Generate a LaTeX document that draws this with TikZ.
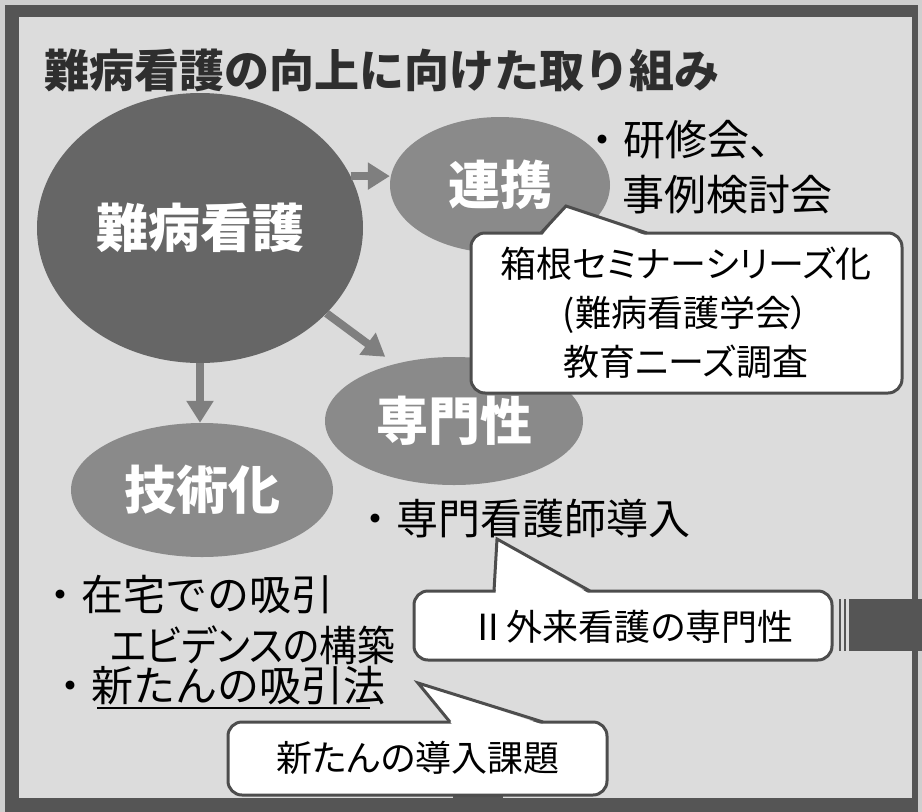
\documentclass[tikz,border=0pt]{standalone}
\usepackage{fontspec}
\newfontfamily\jp{Noto Sans CJK JP}
\newfontfamily\jpp[RawFeature=+palt]{Noto Sans CJK JP}
\newfontfamily\jpn[RawFeature=+palt, FakeStretch=0.9]{Noto Sans CJK JP}
\usetikzlibrary{shapes.geometric,arrows.meta,calc}
\definecolor{outerbg}{HTML}{CFCFCF}
\definecolor{innerbg}{HTML}{DCDCDC}
\definecolor{framegray}{HTML}{555555}
\definecolor{edgegray}{HTML}{4D4D4D}
\definecolor{arrowgray}{HTML}{7F7F7F}
\definecolor{biggray}{HTML}{666666}
\definecolor{smallgray}{HTML}{8A8A8A}
\definecolor{titlegray}{HTML}{2E2E2E}
\begin{document}
\begin{tikzpicture}[x=1pt,y=-1pt,
  bubble/.style={ellipse, inner sep=0pt, text=white, font=\jp\bfseries\fontsize{52}{60}\selectfont},
  arr/.style={draw=arrowgray, line width=8pt, -{Triangle[length=22pt,width=26pt]}},
  boxline/.style={draw=edgegray, line width=3pt},
  plain/.style={inner sep=0pt, anchor=west, text=black, font=\jp\fontsize{42}{50}\selectfont},
  titlestyle/.style={inner sep=0pt, anchor=west, font=\jp\bfseries\fontsize{45}{54}\selectfont},
  ctext/.style={inner sep=0pt, align=center, text=black, font=\jpp\fontsize{36}{49}\selectfont}]
\useasboundingbox (0,0) rectangle (922,812);
% background and frame
\fill[outerbg] (0,0) rectangle (922,812);
\fill[framegray] (5,5) rectangle (918,812);
\fill[innerbg] (19,17) rectangle (912,798);
\fill[framegray] (453,792) rectangle (503,800);
% right bar
\fill[framegray] (849,599) rectangle (922,651);
\draw[framegray, line width=1.5pt] (840,599) -- (840,651) (845,599) -- (845,651);
% title
\node[titlestyle, text=titlegray] (title) at (44,70) {難病看護の向上に向けた取り組み};
% bubbles
\node[bubble, minimum width=326pt, minimum height=270pt, fill=biggray] (nb) at (200,228) {難病看護};
\node[bubble, minimum width=220pt, minimum height=136pt, fill=smallgray] (rk) at (500,185) {連携};
\node[bubble, minimum width=258pt, minimum height=128pt, fill=smallgray] (sm) at (454,421) {専門性};
\node[bubble, minimum width=262pt, minimum height=134pt, fill=smallgray] (tj) at (202,490) {技術化};
% arrows
\draw[arr] (nb.19) -- (rk.west |- nb.19);
\draw[arr, shorten >=12pt] (nb.-34) -- (sm.136);
\draw[arr] (nb.south) -- (nb.south |- tj.north);
% plain texts
\node[plain] (kk) at (581,140) {・研修会、};
\node[plain] (jr) at (622,195) {事例検討会};
\node[plain] (sk) at (354,519) {・専門看護師導入};
\node[plain] (zt) at (39,595) {・在宅での吸引};
\node[plain, font=\jpn\fontsize{42}{50}\selectfont] (eb) at (110,645) {エビデンスの構築};
\node[plain] (st) at (49,686) {・新たんの吸引法};
\draw[black, line width=1.5pt] (97,708) -- (370,708);
% callout 1
\draw[boxline, fill=white, rounded corners=14pt] (471,233) rectangle (902,393);
\fill[white] (542,235.5) -- (566,206) -- (646,235.5) -- cycle;
\draw[boxline, line join=miter] (541,233) -- (566,206) -- (647,233);
\node[ctext] (c1) at (686,313) {箱根セミナーシリーズ化\\(難病看護学会）\\教育ニーズ調査};
% callout 2
\draw[boxline, fill=white, rounded corners=14pt] (414,591) rectangle (832,660);
\fill[white] (495.5,593) -- (497,539) -- (588,593) -- cycle;
\draw[boxline, line join=miter] (494,591) -- (497,539) -- (590,591);
\node[ctext] (c2) at (632,627) {Ⅱ外来看護の専門性};
% callout 3
\draw[boxline, fill=white, rounded corners=14pt] (228,722) rectangle (607,795);
\fill[white] (452,724) -- (418,683) -- (541,724) -- cycle;
\draw[boxline, line join=miter] (450,722) -- (418,683) -- (543,722);
\node[ctext] (c3) at (418,758) {新たんの導入課題};
\end{tikzpicture}
\end{document}
